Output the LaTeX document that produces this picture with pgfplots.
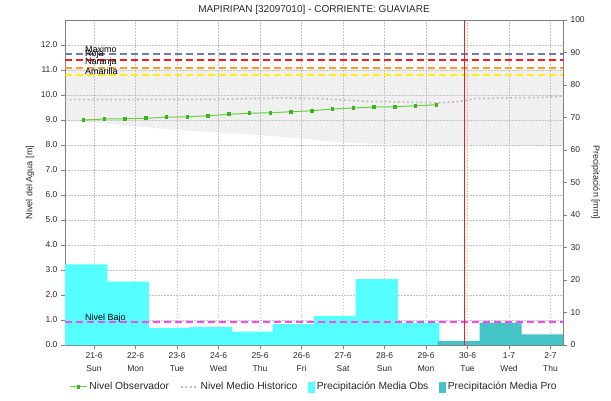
\documentclass[border=0pt]{standalone}
\usepackage{fontspec}
\setmainfont{Liberation Sans}
\usepackage{pgfplots}
\pgfplotsset{compat=1.18}
\definecolor{cobs}{RGB}{85,255,255}
\definecolor{cpro}{RGB}{68,196,196}
\definecolor{cband}{RGB}{240,240,240}
\definecolor{cmax}{RGB}{110,125,175}
\definecolor{croja}{RGB}{255,26,26}
\definecolor{cnar}{RGB}{255,154,46}
\definecolor{cama}{RGB}{255,240,0}
\definecolor{cbajo}{RGB}{255,68,255}
\definecolor{cline}{RGB}{110,205,70}
\definecolor{cmark}{RGB}{60,180,30}
\definecolor{chist}{RGB}{190,190,190}
\definecolor{cgrid}{RGB}{195,195,195}
\definecolor{ctext}{RGB}{40,40,40}
\pgfplotsset{base/.style={scale only axis, width=498pt, height=325pt,
  at={(65pt,55pt)}, anchor=south west, xmin=-0.7, xmax=11.3}}
\begin{document}
\begin{tikzpicture}
\useasboundingbox (0,0) rectangle (611pt,400pt);
% band of historic range
\begin{axis}[base, ymin=0, ymax=13, hide axis]
\addplot[fill=cband, draw=none] coordinates {(-0.7,11.02)(11.3,11.02)(11.3,7.93)(10,7.97)(9,8.0)(8,8.0)(7,8.03)(6,8.1)(5,8.25)(4,8.4)(3,8.5)(2,8.6)(1,8.75)(0,8.9)(-0.7,8.95)};
\end{axis}
% main level axis with grid
\begin{axis}[base, ymin=0, ymax=13,
  axis line style={draw=gray},
  grid=major, grid style={cgrid, dash pattern=on 1.5pt off 1.5pt, line width=0.8pt},
  xtick={0,...,11},
  xticklabels={{21-6\\Sun},{22-6\\Mon},{23-6\\Tue},{24-6\\Wed},{25-6\\Thu},{26-6\\Fri},{27-6\\Sat},{28-6\\Sun},{29-6\\Mon},{30-6\\Tue},{1-7\\Wed},{2-7\\Thu}},
  xticklabel style={align=center, font=\fontsize{8.5}{13}\selectfont, text=ctext},
  ytick={0,...,12},
  yticklabel style={/pgf/number format/fixed, /pgf/number format/fixed zerofill, /pgf/number format/precision=1, /pgf/number format/assume math mode=true, font=\fontsize{8.5}{10}\selectfont, text=ctext},
  xtick pos=bottom, ytick pos=left,
  tick align=outside, major tick length=4pt, tick style={gray},
  ylabel={Nivel del Agua [m]},
  every axis y label/.style={at={(axis description cs:-0.0703,0.5)}, rotate=90, anchor=center, font=\fontsize{9}{10}\selectfont, text=ctext},
  title={MAPIRIPAN [32097010] - CORRIENTE: GUAVIARE},
  every axis title/.style={at={(axis description cs:0.5,1)}, anchor=south, yshift=2pt, font=\fontsize{10}{12}\selectfont, text=ctext}]
\addplot[draw=none] coordinates {(0,0)};
\end{axis}
% precipitation axis
\begin{axis}[base, ymin=0, ymax=100,
  axis y line*=right, axis x line=none,
  axis line style={draw=gray},
  ytick={0,10,...,100},
  yticklabel style={font=\fontsize{8.5}{10}\selectfont, text=ctext, /pgf/number format/assume math mode=true},
  tick align=outside, major tick length=4pt, tick style={gray},
  ylabel={Precipitación [mm]},
  every axis y label/.style={at={(axis description cs:1.066,0.5)}, rotate=-90, anchor=center, font=\fontsize{9}{10}\selectfont, text=ctext}]
\addplot[const plot, fill=cobs, draw=none] coordinates {(-0.7,24.8)(0.32,19.5)(1.32,5.3)(2.3,5.6)(3.32,4.1)(4.3,6.4)(5.3,9.0)(6.3,20.3)(7.32,6.9)(8.32,6.9)} \closedcycle;
\addplot[const plot, fill=cpro, draw=none] coordinates {(8.28,1.3)(9.29,6.9)(10.3,3.3)(11.3,3.3)} \closedcycle;
\end{axis}
% level lines
\begin{axis}[base, ymin=0, ymax=13, hide axis, clip=true,
  legend style={at={(0.5,-0.129)}, anchor=center, draw=none, fill=none,
    legend columns=4, font=\fontsize{10.3}{12}\selectfont, text=ctext,
    /tikz/every even column/.style={column sep=9pt}},
  legend cell align=left]
\addplot[cmax, line width=1.8pt, dash pattern=on 7pt off 4pt, forget plot] coordinates {(-0.7,11.64)(11.3,11.64)};
\addplot[croja, line width=1.8pt, dash pattern=on 7pt off 4pt, forget plot] coordinates {(-0.7,11.4)(11.3,11.4)};
\addplot[cnar, line width=1.8pt, dash pattern=on 7pt off 4pt, forget plot] coordinates {(-0.7,11.09)(11.3,11.09)};
\addplot[cama, line width=1.8pt, dash pattern=on 7pt off 4pt, forget plot] coordinates {(-0.7,10.79)(11.3,10.79)};
\addplot[cbajo, line width=1.8pt, dash pattern=on 7pt off 4pt, forget plot] coordinates {(-0.7,0.92)(11.3,0.92)};
\addplot[chist, line width=1.5pt, dash pattern=on 2pt off 2.5pt, forget plot] coordinates {(-0.7,9.82)(1,9.82)(3,9.83)(4.5,9.88)(5.5,9.85)(6.5,9.75)(7.5,9.72)(8.3,9.68)(8.8,9.74)(9.2,9.86)(10,9.88)(10.8,9.9)(11.3,9.96)};
\addplot[cline, line width=1pt, mark=square*, mark size=1.3pt, mark options={cmark, solid}, forget plot] coordinates {(-0.25,9.0)(0.25,9.04)(0.75,9.05)(1.25,9.07)(1.75,9.11)(2.25,9.13)(2.75,9.17)(3.25,9.23)(3.75,9.27)(4.25,9.29)(4.75,9.33)(5.25,9.37)(5.75,9.44)(6.25,9.48)(6.75,9.52)(7.25,9.53)(7.75,9.57)(8.25,9.61)};
\addplot[croja, line width=0.8pt, forget plot] coordinates {(8.92,0)(8.92,13)};
\node[anchor=base west, inner sep=0pt, font=\fontsize{9}{10}\selectfont] at (axis cs:-0.22,11.72) {Maximo};
\node[anchor=base west, inner sep=0pt, font=\fontsize{9}{10}\selectfont] at (axis cs:-0.22,11.52) {Roja};
\node[anchor=base west, inner sep=0pt, font=\fontsize{9}{10}\selectfont] at (axis cs:-0.22,11.2) {Naranja};
\node[anchor=base west, inner sep=0pt, font=\fontsize{9}{10}\selectfont] at (axis cs:-0.22,10.84) {Amarilla};
\node[anchor=base west, inner sep=0pt, font=\fontsize{9}{10}\selectfont] at (axis cs:-0.22,1.0) {Nivel Bajo};
\addlegendimage{cline, line width=1pt, mark=square*, mark size=1.3pt, mark options={cmark}}
\addlegendentry{Nivel Observador}
\addlegendimage{chist, line width=1.5pt, dash pattern=on 2pt off 2.5pt}
\addlegendentry{Nivel Medio Historico}
\addlegendimage{legend image code/.code={\fill[cobs] (0pt,-5pt) rectangle (6pt,5pt);}}
\addlegendentry{Precipitación Media Obs}
\addlegendimage{legend image code/.code={\fill[cpro] (0pt,-5pt) rectangle (6pt,5pt);}}
\addlegendentry{Precipitación Media Pro}
\end{axis}
\end{tikzpicture}
\end{document}
